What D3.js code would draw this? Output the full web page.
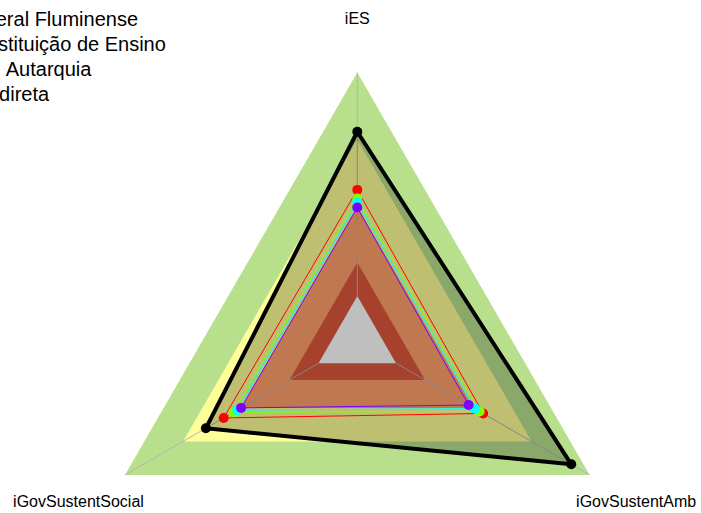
<!DOCTYPE html>
<html>
<head>
<meta charset="utf-8">
<script src="https://cdn.jsdelivr.net/npm/d3@7"></script>
<style>
  html, body { margin: 0; padding: 0; background: #fff; }
  svg { display: block; font-family: Arial, "Liberation Sans", sans-serif; }
</style>
</head>
<body>
<svg id="chart" width="701" height="513"></svg>
<script>
// Indicator axes (top, bottom-left, bottom-right)
const axes = ["iES", "iGovSustentSocial", "iGovSustentAmb"];

// Series values per axis, in the order of `axes`
const serieUFF       = [0.735, 0.582, 0.905];
const serieVermelha  = [0.475, 0.490, 0.450];
const serieVerde     = [0.437, 0.439, 0.432];
const serieCiano     = [0.419, 0.420, 0.407];
const serieRoxa      = [0.396, 0.400, 0.375];

// Classification bands (upper limits of each stage)
const bandLimits = [1.0, 0.70, 0.40, 0.15];
const bandColors = ["#B8E08C", "#FFFF99", "#FFA06A", "#DC573C"];

// Legend entries
const legendLabels = [
  "Universidade Federal Fluminense",
  "Média Espécie: Instituição de Ensino",
  "Natureza Jurídica: Autarquia",
  "Natureza: Adm. Indireta"
];

const series = [
  { values: serieUFF,      color: "#000000", width: 4,   fill: "rgba(0,0,0,0.25)" },
  { values: serieVermelha, color: "#FF0000", width: 1,   fill: "none" },
  { values: serieVerde,    color: "#80FF00", width: 1,   fill: "none" },
  { values: serieCiano,    color: "#00FFFF", width: 1,   fill: "none" },
  { values: serieRoxa,     color: "#8000FF", width: 1,   fill: "none" }
];

const svg = d3.select("#chart");
const cx = 357.3, cy = 340.8, R = 268.3;

// value -> radius; the centre hole sits at 1/6 of the radius (value 0)
const r = d3.scaleLinear().domain([0, 1]).range([R / 6, R]);
// axis -> angle (degrees, screen coords)
const angle = d3.scaleOrdinal().domain(axes).range([-90, 150, 30]);

function pt(axis, v) {
  const a = angle(axis) * Math.PI / 180;
  return [cx + r(v) * Math.cos(a), cy + r(v) * Math.sin(a)];
}
const line = d3.line();
function poly(vals) { return line(axes.map((a, i) => pt(a, vals[i]))) + "Z"; }

// Background bands, outermost first
svg.append("g").selectAll("path")
  .data(bandLimits)
  .join("path")
  .attr("d", d => poly(axes.map(() => d)))
  .attr("fill", (d, i) => bandColors[i]);

// Centre hole
svg.append("path").attr("d", poly(axes.map(() => 0))).attr("fill", "#FFFFFF");

// Axis lines
svg.append("g").selectAll("line")
  .data(axes)
  .join("line")
  .attr("x1", a => pt(a, 0)[0]).attr("y1", a => pt(a, 0)[1])
  .attr("x2", a => pt(a, 1)[0]).attr("y2", a => pt(a, 1)[1])
  .attr("stroke", "#B3B3B3").attr("stroke-width", 1);

// Series polygons and their points
series.forEach(s => {
  const g = svg.append("g");
  g.append("path")
    .attr("d", poly(s.values))
    .attr("fill", s.fill)
    .attr("stroke", s.color)
    .attr("stroke-width", s.width)
    .attr("stroke-linejoin", "round");
  g.selectAll("circle")
    .data(axes.map((a, i) => pt(a, s.values[i])))
    .join("circle")
    .attr("cx", d => d[0]).attr("cy", d => d[1])
    .attr("r", 5)
    .attr("fill", s.color);
});

// Axis labels
svg.append("g").selectAll("text")
  .data(axes)
  .join("text")
  .attr("x", a => cx + 1.2 * R * Math.cos(angle(a) * Math.PI / 180))
  .attr("y", a => cy + 1.2 * R * Math.sin(angle(a) * Math.PI / 180))
  .attr("text-anchor", "middle")
  .attr("dominant-baseline", "central")
  .attr("font-size", 16)
  .attr("fill", "#000")
  .text(a => a);

// Legend
svg.append("g").selectAll("text")
  .data(legendLabels)
  .join("text")
  .attr("x", -161)
  .attr("y", (d, i) => 26 + i * 25)
  .attr("font-size", 20)
  .attr("fill", "#000")
  .text(d => d);
</script>
</body>
</html>
